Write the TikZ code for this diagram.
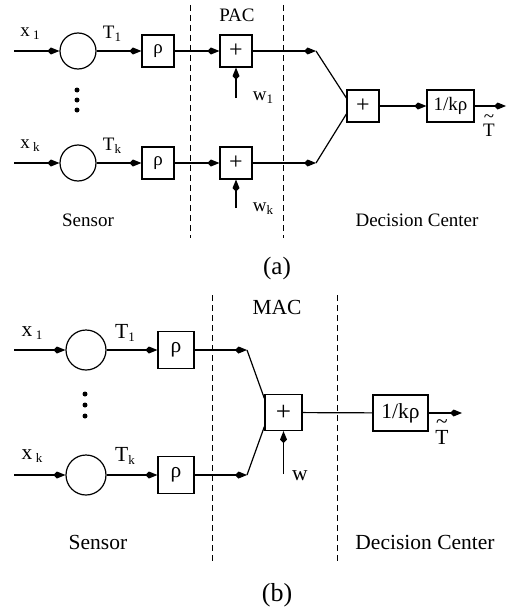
\documentclass[tikz,border=0pt]{standalone}
\usepackage{fontspec}
\setmainfont{Liberation Serif}
\usetikzlibrary{arrows.meta}
\tikzset{
  kt/.tip={Kite[length=12pt,width=7pt,inset=3.5pt]},
  ln/.style={line width=1.2pt},
  arr/.style={ln,-kt},
  blk/.style={draw,line width=1.2pt,rectangle,inner sep=0pt},
  circ/.style={draw,line width=1.2pt,circle,inner sep=0pt},
  dsh/.style={line width=1pt,dash pattern=on 6pt off 4pt},
  dotn/.style={fill,circle,inner sep=0pt,minimum size=5pt},
  lba/.style={font=\fontsize{19}{22}\selectfont,inner sep=0pt},
  lbb/.style={font=\fontsize{21.5}{24}\selectfont,inner sep=0pt},
}
\newcommand{\sub}[1]{\raisebox{-0.35ex}{\fontsize{13}{15}\selectfont #1}}
\newcommand{\ttil}{\begin{tabular}{@{}c@{}}\~{}\\[-8pt]T\end{tabular}}
\begin{document}
\begin{tikzpicture}[x=1pt,y=-1pt]
\useasboundingbox (0,0) rectangle (509,610);
% ================= (a) =================
\begin{scope}[every node/.append style={lba}]
\coordinate (ia1) at (14,51);
\coordinate (ia2) at (14,163);
\node[circ,minimum size=36pt] (ca1) at (78,51) {};
\node[circ,minimum size=36pt] (ca2) at (78,163) {};
\node[blk,minimum width=32pt,minimum height=32pt] (ra1) at (158,51) {ρ};
\node[blk,minimum width=32pt,minimum height=32pt] (ra2) at (158,163) {ρ};
\node[blk,minimum width=32pt,minimum height=32pt,font=\fontsize{24}{24}\selectfont] (pa1) at (236,51) {+};
\node[blk,minimum width=32pt,minimum height=32pt,font=\fontsize{24}{24}\selectfont] (pa2) at (236,163) {+};
\coordinate (ja1) at (316,51);
\coordinate (ja2) at (316,163);
\node[blk,minimum width=32pt,minimum height=32pt,font=\fontsize{24}{24}\selectfont] (sa) at (363,106) {+};
\node[blk,minimum width=47pt,minimum height=32pt] (ka) at (450.5,106) {1/kρ};
\coordinate (oa) at (506,106);
\coordinate (wa1) at (236,98);
\coordinate (wa2) at (236,208);
\draw[arr] (ia1) -- (ca1);
\draw[arr] (ia2) -- (ca2);
\draw[arr] (ca1) -- (ra1);
\draw[arr] (ca2) -- (ra2);
\draw[arr] (ra1) -- (pa1);
\draw[arr] (ra2) -- (pa2);
\draw[arr] (pa1) -- (ja1);
\draw[arr] (pa2) -- (ja2);
\draw[ln] (ja1) -- ([yshift=8pt]sa.west);
\draw[ln] (ja2) -- ([yshift=-8pt]sa.west);
\draw[arr] (wa1) -- (pa1);
\draw[arr] (wa2) -- (pa2);
\draw[arr] (sa) -- (ka);
\draw[arr] (ka) -- (oa);
\coordinate (da1t) at (190,5); \coordinate (da1b) at (190,238);
\coordinate (da2t) at (283,5); \coordinate (da2b) at (283,238);
\draw[dsh] (da1t) -- (da1b);
\draw[dsh] (da2t) -- (da2b);
\node[dotn] (dta1) at (77,90) {};
\node[dotn] (dta2) at (77,100) {};
\node[dotn] (dta3) at (77,110) {};
\node (xa1) at (30,34) {x\,\sub{1}};
\node (ta1) at (112,34) {T\sub{1}};
\node (xa2) at (30,146) {x\,\sub{k}};
\node (ta2) at (112,146) {T\sub{k}};
\node (pac) at (237,15) {PAC};
\node (wla1) at (263,98) {w\sub{1}};
\node (wla2) at (263,209) {w\sub{k}};
\node (sena) at (88,220) {Sensor};
\node (deca) at (417,220) {Decision Center};
\node (tta) at (489,125) {\ttil};
\node[font=\fontsize{25}{27}\selectfont] (capa) at (277,268) {(a)};
\end{scope}
% ================= (b) =================
\begin{scope}[every node/.append style={lbb}]
\coordinate (ib1) at (14,350);
\coordinate (ib2) at (14,475);
\node[circ,minimum size=40pt] (cb1) at (86,350) {};
\node[circ,minimum size=40pt] (cb2) at (86,475) {};
\node[blk,minimum width=36pt,minimum height=37pt] (rb1) at (176,350) {ρ};
\node[blk,minimum width=36pt,minimum height=37pt] (rb2) at (176,475) {ρ};
\coordinate (jb1) at (247,350);
\coordinate (jb2) at (247,475);
\node[blk,minimum width=37pt,minimum height=36pt,font=\fontsize{27}{27}\selectfont] (sb) at (283.5,412.5) {+};
\node[blk,minimum width=55pt,minimum height=36pt] (kb) at (400.5,413) {1/kρ};
\coordinate (ob) at (462,413);
\coordinate (wb) at (283.5,474);
\draw[arr] (ib1) -- (cb1);
\draw[arr] (ib2) -- (cb2);
\draw[arr] (cb1) -- (rb1);
\draw[arr] (cb2) -- (rb2);
\draw[arr] (rb1) -- (jb1);
\draw[arr] (rb2) -- (jb2);
\draw[ln] (jb1) -- ([yshift=14pt]sb.west);
\draw[ln] (jb2) -- ([yshift=-14pt]sb.west);
\draw[arr] (wb) -- (sb);
\draw[ln] (sb) -- (kb);
\draw[arr] (kb) -- (ob);
\coordinate (db1t) at (212,295); \coordinate (db1b) at (212,562);
\coordinate (db2t) at (337,295); \coordinate (db2b) at (337,562);
\draw[dsh] (db1t) -- (db1b);
\draw[dsh] (db2t) -- (db2b);
\node[dotn] (dtb1) at (85,394) {};
\node[dotn] (dtb2) at (85,405) {};
\node[dotn] (dtb3) at (85,416) {};
\node (xb1) at (32,333) {x\,\sub{1}};
\node (tb1) at (125,333) {T\sub{1}};
\node (xb2) at (32,456) {x\,\sub{k}};
\node (tb2) at (125,456) {T\sub{k}};
\node (mac) at (277,307) {MAC};
\node (wlb) at (300,476) {w};
\node (senb) at (98,542) {Sensor};
\node (decb) at (425,542) {Decision Center};
\node (ttb) at (442,432) {\ttil};
\node[font=\fontsize{26}{28}\selectfont] (capb) at (277,595) {(b)};
\end{scope}
\end{tikzpicture}
\end{document}
